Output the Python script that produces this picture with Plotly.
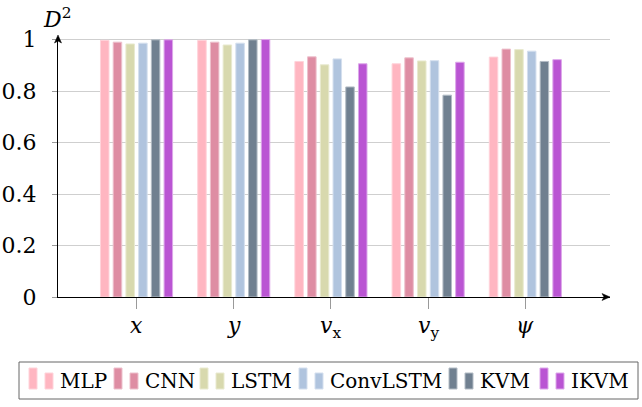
import plotly.graph_objects as go

# Data: D^2 score per state variable for each model
categories = ["<i>x</i>", "<i>y</i>", "<i>v</i><sub>x</sub>", "<i>v</i><sub>y</sub>", "<i>ψ</i>"]
models = ["MLP", "CNN", "LSTM", "ConvLSTM", "KVM", "IKVM"]
mlp = [0.997, 0.997, 0.915, 0.906, 0.932]
cnn = [0.990, 0.990, 0.933, 0.929, 0.963]
lstm = [0.983, 0.979, 0.902, 0.917, 0.961]
convlstm = [0.986, 0.986, 0.925, 0.918, 0.955]
kvm = [0.999, 0.999, 0.816, 0.784, 0.915]
ikvm = [0.999, 1.000, 0.906, 0.912, 0.922]
series = [mlp, cnn, lstm, convlstm, kvm, ikvm]
y_ticks = [0, 0.2, 0.4, 0.6, 0.8, 1]
y_tick_text = ["0", "0.2", "0.4", "0.6", "0.8", "1"]

# Styling
fills = ["#FFB6C1", "#DE8DA3", "#D8D9AE", "#B0C4DE", "#708090", "#BA55D3"]
edges = ["#FFD3DA", "#EDC0CC", "#E9EAD0", "#D4DFEE", "#B3BCC5", "#DDA8EA"]
FONT = "DejaVu Serif"

W, H = 642, 407
L, R, T, B = 58, 32, 37, 110
PW, PH = W - L - R, H - T - B


def px_x(px):
    return (px - L) / PW


def px_y(py):
    return (H - B - py) / PH


def arrow_path(pts):
    return "M " + " L ".join(f"{px_x(x):.5f},{px_y(y):.5f}" for x, y in pts) + " Z"


fig = go.Figure()
for name, vals, fc, ec in zip(models, series, fills, edges):
    fig.add_trace(go.Bar(
        x=categories, y=vals, name=name, showlegend=False,
        marker=dict(color=fc, line=dict(color=ec, width=1)),
    ))

fig.update_layout(
    width=W, height=H,
    margin=dict(l=L, r=R, t=T, b=B, pad=0),
    paper_bgcolor="white", plot_bgcolor="white",
    barmode="group", bargap=0.215, bargroupgap=0.33,
    font=dict(family=FONT, size=20, color="black"),
    xaxis=dict(
        type="category", range=[-0.808, 4.871], automargin=False,
        showline=True, linecolor="black", linewidth=1,
        ticks="outside", ticklen=11, tickcolor="#9a9a9a", tickwidth=1,
        showgrid=False, showticklabels=False,
    ),
    yaxis=dict(
        range=[0, 1.01], tickvals=y_ticks, ticktext=y_tick_text, automargin=False,
        showline=True, linecolor="black", linewidth=1,
        ticks="outside", ticklen=5, tickcolor="#9a9a9a", tickwidth=1,
        showgrid=True, gridcolor="#cfcfcf", gridwidth=1,
        zeroline=False, tickfont=dict(family=FONT, size=22),
        ticklabelstandoff=11,
    ),
)

# Category labels just under the x ticks
for cat in categories:
    fig.add_annotation(xref="x", yref="paper", x=cat, y=px_y(311),
                       xanchor="center", yanchor="top", showarrow=False,
                       text=cat, font=dict(family=FONT, size=22))

# Axis title D^2
fig.add_annotation(xref="paper", yref="paper", x=px_x(41), y=px_y(18),
                   xanchor="left", yanchor="middle", showarrow=False,
                   text="<i>D</i><sup>2</sup>", font=dict(family=FONT, size=22))

shapes = []
# Arrow heads on the two axes
shapes.append(dict(type="path", xref="paper", yref="paper",
                   path=arrow_path([(58, 35), (54.5, 43), (58, 41), (61.5, 43)]),
                   fillcolor="black", line=dict(color="black", width=0.5)))
shapes.append(dict(type="path", xref="paper", yref="paper",
                   path=arrow_path([(610, 297), (602, 293.5), (604, 297), (602, 300.5)]),
                   fillcolor="black", line=dict(color="black", width=0.5)))

# Legend box with two-bar glyphs per entry
legend_x0 = [29, 114, 200, 299, 449, 540]
shapes.append(dict(type="rect", xref="paper", yref="paper",
                   x0=px_x(19), x1=px_x(638), y0=px_y(399), y1=px_y(362),
                   line=dict(color="#666666", width=1), fillcolor="white", layer="below"))
for name, x0, fc, ec in zip(models, legend_x0, fills, edges):
    shapes.append(dict(type="rect", xref="paper", yref="paper",
                       x0=px_x(x0), x1=px_x(x0 + 8), y0=px_y(389), y1=px_y(368),
                       fillcolor=fc, line=dict(color=ec, width=1)))
    shapes.append(dict(type="rect", xref="paper", yref="paper",
                       x0=px_x(x0 + 16), x1=px_x(x0 + 24), y0=px_y(389), y1=px_y(373),
                       fillcolor=fc, line=dict(color=ec, width=1)))
    fig.add_annotation(xref="paper", yref="paper", x=px_x(x0 + 29), y=px_y(381),
                       xanchor="left", yanchor="middle", showarrow=False,
                       text=name, font=dict(family=FONT, size=20))
fig.update_layout(shapes=shapes)

fig.write_html("out.html")
